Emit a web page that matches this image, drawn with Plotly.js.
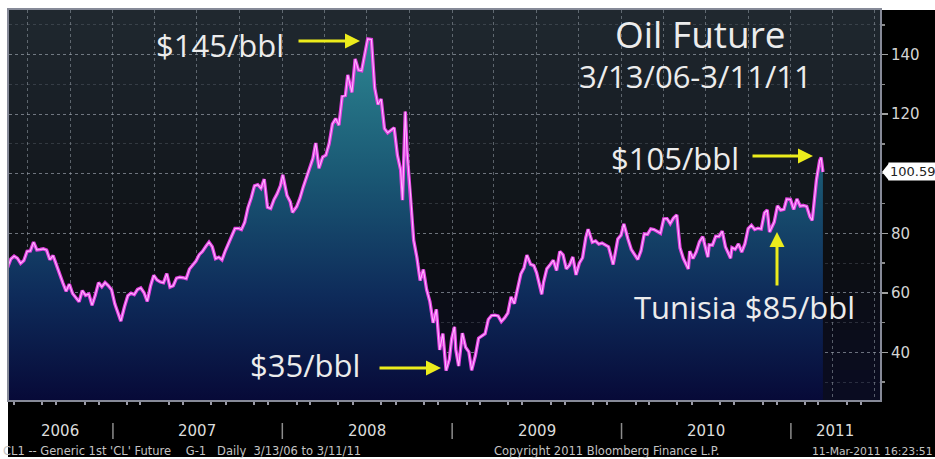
<!DOCTYPE html>
<html>
<head>
<meta charset="utf-8">
<script src="https://cdn.plot.ly/plotly-3.0.1.min.js"></script>
<style>html,body{margin:0;padding:0;background:#fff;}#chart{width:935px;height:459px;}</style>
</head>
<body>
<div id="chart"></div>
<script>
// ---- data (CL1 generic 1st crude oil future) ----
const dates = [
"2006-05-19","2006-05-26","2006-06-02","2006-06-09","2006-06-16","2006-06-23","2006-06-30","2006-07-07","2006-07-14","2006-07-21","2006-07-28","2006-08-04","2006-08-11","2006-08-18","2006-08-25","2006-09-01","2006-09-08","2006-09-15","2006-09-22","2006-09-29","2006-10-06","2006-10-13","2006-10-20","2006-10-27","2006-11-03","2006-11-10","2006-11-17","2006-11-24","2006-12-01","2006-12-08","2006-12-15","2006-12-22","2006-12-29",
"2007-01-05","2007-01-12","2007-01-18","2007-01-26","2007-02-02","2007-02-09","2007-02-16","2007-02-23","2007-03-02","2007-03-09","2007-03-16","2007-03-23","2007-03-30","2007-04-06","2007-04-13","2007-04-20","2007-04-27","2007-05-04","2007-05-11","2007-05-18","2007-05-25","2007-06-01","2007-06-08","2007-06-15","2007-06-22","2007-06-29","2007-07-06","2007-07-13","2007-07-20","2007-07-27","2007-08-03","2007-08-10","2007-08-17","2007-08-24","2007-08-31","2007-09-07","2007-09-14","2007-09-21","2007-09-28","2007-10-05","2007-10-12","2007-10-19","2007-10-26","2007-11-02","2007-11-09","2007-11-16","2007-11-23","2007-11-30","2007-12-07","2007-12-14","2007-12-21","2007-12-28",
"2008-01-02","2008-01-11","2008-01-18","2008-01-23","2008-02-01","2008-02-08","2008-02-15","2008-02-22","2008-02-29","2008-03-07","2008-03-13","2008-03-20","2008-03-28","2008-04-04","2008-04-11","2008-04-18","2008-04-25","2008-05-02","2008-05-09","2008-05-16","2008-05-21","2008-05-30","2008-06-06","2008-06-13","2008-06-20","2008-06-27","2008-07-03","2008-07-11","2008-07-18","2008-07-25","2008-08-01","2008-08-08","2008-08-15","2008-08-22","2008-08-29","2008-09-05","2008-09-12","2008-09-16","2008-09-22","2008-09-26","2008-10-03","2008-10-10","2008-10-17","2008-10-24","2008-10-31","2008-11-07","2008-11-14","2008-11-21","2008-11-28","2008-12-05","2008-12-12","2008-12-19","2008-12-26","2008-12-31",
"2009-01-06","2009-01-09","2009-01-15","2009-01-23","2009-01-30","2009-02-06","2009-02-12","2009-02-20","2009-02-27","2009-03-06","2009-03-13","2009-03-20","2009-03-27","2009-04-03","2009-04-10","2009-04-17","2009-04-24","2009-05-01","2009-05-08","2009-05-15","2009-05-22","2009-05-29","2009-06-05","2009-06-11","2009-06-19","2009-06-26","2009-07-02","2009-07-13","2009-07-17","2009-07-24","2009-07-31","2009-08-07","2009-08-14","2009-08-21","2009-08-28","2009-09-04","2009-09-11","2009-09-18","2009-09-25","2009-10-02","2009-10-09","2009-10-16","2009-10-21","2009-10-30","2009-11-06","2009-11-13","2009-11-20","2009-11-27","2009-12-04","2009-12-14","2009-12-18","2009-12-24","2009-12-31",
"2010-01-06","2010-01-15","2010-01-22","2010-01-29","2010-02-05","2010-02-12","2010-02-19","2010-02-26","2010-03-05","2010-03-12","2010-03-19","2010-03-26","2010-04-02","2010-04-09","2010-04-16","2010-04-23","2010-04-30","2010-05-07","2010-05-14","2010-05-25","2010-05-28","2010-06-04","2010-06-11","2010-06-18","2010-06-25","2010-07-06","2010-07-09","2010-07-16","2010-07-23","2010-07-30","2010-08-06","2010-08-13","2010-08-24","2010-08-27","2010-09-03","2010-09-10","2010-09-17","2010-09-24","2010-10-01","2010-10-08","2010-10-15","2010-10-22","2010-10-29","2010-11-05","2010-11-11","2010-11-16","2010-11-26","2010-12-03","2010-12-10","2010-12-17","2010-12-23","2010-12-31",
"2011-01-07","2011-01-14","2011-01-21","2011-01-28","2011-02-04","2011-02-11","2011-02-16","2011-02-22","2011-02-25","2011-03-04","2011-03-07","2011-03-11"
];
const prices = [
68.53,71.37,72.33,71.63,69.89,70.87,73.93,74.09,77.03,74.43,74.54,74.76,74.35,71.14,72.51,69.20,66.25,63.33,60.55,62.91,59.76,58.57,57.02,60.75,59.14,59.58,55.81,59.24,63.43,62.03,63.43,62.41,61.05,
56.31,52.99,50.48,55.42,59.02,59.89,59.39,61.14,61.64,60.05,57.11,62.28,65.87,64.28,63.63,63.38,66.46,61.93,62.37,64.94,65.20,65.08,64.76,68.00,69.18,70.68,72.81,73.93,75.57,77.02,75.48,71.47,71.98,71.09,74.04,76.70,79.10,81.62,81.66,81.22,83.69,88.60,91.86,95.93,96.32,95.10,98.18,88.71,88.28,91.27,93.31,96.00,
99.62,92.69,90.57,86.99,88.96,91.77,95.50,98.81,101.84,105.15,110.33,101.84,105.62,106.23,110.14,116.69,118.52,116.32,125.96,126.29,133.17,127.35,138.54,134.86,134.62,140.21,145.29,145.08,128.88,123.26,125.10,115.20,113.77,114.59,115.46,106.23,101.18,91.15,120.92,106.89,93.88,77.70,71.85,64.15,67.81,61.04,57.04,49.93,54.43,40.81,46.28,33.87,37.71,44.60,
48.58,40.83,35.40,46.47,41.68,40.17,33.98,38.94,44.76,45.52,46.25,51.06,52.38,52.51,52.24,50.33,51.55,53.20,58.63,56.34,61.67,66.31,68.44,72.68,69.55,69.16,66.73,59.52,63.56,68.05,69.45,70.93,67.51,73.89,72.74,68.02,69.29,72.04,66.02,69.95,71.77,78.53,81.37,77.00,77.43,76.35,76.72,76.05,75.47,69.51,73.36,78.05,79.36,
83.18,78.00,74.54,72.89,71.19,74.13,79.81,79.66,81.50,81.24,80.68,80.00,84.87,84.92,83.24,85.12,86.15,75.11,71.61,68.01,74.00,71.51,73.78,77.18,78.86,71.98,76.09,76.01,78.98,78.95,80.70,75.39,71.63,75.17,74.60,76.45,73.66,76.49,81.58,82.66,81.25,81.69,81.43,86.85,87.81,80.44,83.76,89.19,87.79,88.02,91.51,91.38,
88.03,91.54,89.11,89.34,89.03,85.58,84.32,93.57,97.88,104.42,105.44,100.59
];
const yearLabels = ["2006","2007","2008","2009","2010","2011"];
const yearLabelDates = ["2006-09-09","2007-07-02","2008-07-02","2009-07-02","2010-07-02","2011-04-06"];
const yearBoundaries = ["2007-01-01","2008-01-01","2009-01-01","2010-01-01","2011-01-01"];
const yTickVals = [40,60,80,100,120,140];
const yTickText = ["40","60","80","","120","140"];   // 100 is hidden under the last-price tag
const titleText = "Oil Future";
const subtitleText = "3/13/06-3/11/11";
const callouts = ["$145/bbl","$35/bbl","$105/bbl","Tunisia $85/bbl"];
const footerLeft = "CL1 -- Generic 1st 'CL' Future\u00a0\u00a0\u00a0\u00a0G-1\u00a0\u00a0\u00a0Daily\u00a0\u00a03/13/06 to 3/11/11";
const footerMid = "Copyright 2011 Bloomberg Finance L.P.";
const footerRight = "11-Mar-2011 16:23:51";

// ---- geometry helpers (plot area: x 9..880, y 10..400) ----
const W = 935, H = 459, L = 9, R = 55, T = 10, B = 59;
const PW = W - L - R, PH = H - T - B;
const px = v => (v - L) / PW;
const py = v => (T + PH - v) / PH;

const lastPrice = prices[prices.length - 1];

const traces = [
  {
    x: dates, y: prices, type: 'scatter', mode: 'lines',
    fill: 'tozeroy',
    fillgradient: {type: 'vertical', start: 24, stop: 150,
      colorscale: [[0, '#070a38'], [0.28, '#0e2b5a'], [0.6, '#1a5874'], [1, '#2f8a94']]},
    line: {color: '#e23fe2', width: 3.4},
    hoverinfo: 'skip', showlegend: false
  },
  {
    x: dates, y: prices, type: 'scatter', mode: 'lines',
    line: {color: '#ffb6ff', width: 1.1},
    hoverinfo: 'skip', showlegend: false
  }
];

// background: black frame + vertical gradient behind plot area
const shapes = [];
shapes.push({type: 'rect', xref: 'paper', yref: 'paper', layer: 'below',
  x0: px(8), x1: px(945), y0: py(457), y1: py(10), line: {width: 0}, fillcolor: '#000000'});
const stops = [[10, [32, 40, 48]], [140, [22, 28, 34]], [260, [12, 14, 18]], [400, [10, 12, 34]]];
function colAt(y) {
  for (let i = 0; i < stops.length - 1; i++) {
    const [y0, c0] = stops[i], [y1, c1] = stops[i + 1];
    if (y >= y0 && y <= y1) {
      const t = (y - y0) / (y1 - y0);
      return 'rgb(' + c0.map((c, k) => Math.round(c + (c1[k] - c) * t)).join(',') + ')';
    }
  }
  return 'rgb(10,12,34)';
}
for (let y = 10; y < 400; y += 10) {
  shapes.push({type: 'rect', xref: 'paper', yref: 'paper', layer: 'below',
    x0: 0, x1: 1, y0: py(Math.min(y + 10, 400)), y1: py(y), line: {width: 0}, fillcolor: colAt(y + 5)});
}
// year separators below the axis
yearBoundaries.forEach(d => shapes.push({type: 'line', xref: 'x', yref: 'paper',
  x0: d, x1: d, y0: py(439), y1: py(423), line: {color: '#8c8c8c', width: 1.5}}));
// last-price tag pointer
shapes.push({type: 'path', xref: 'paper', yref: 'y',
  path: `M ${px(882)},${lastPrice} L ${px(889)},${lastPrice + 2.9} L ${px(889)},${lastPrice - 2.9} Z`,
  fillcolor: '#ffffff', line: {width: 0}});

const txt = '#ececec', yellow = '#ecec1c', callFont = 'Open Sans, Noto Sans, sans-serif';
const arrow = (hx, hy, ax, ay) => ({xref: 'paper', yref: 'paper', x: px(hx), y: py(hy), text: '',
  showarrow: true, ax: ax, ay: ay, arrowhead: 2, arrowsize: 1, arrowwidth: 3, arrowcolor: yellow, standoff: 0, startstandoff: 0});

const annotations = [
  {xref: 'paper', yref: 'paper', x: px(700), y: py(33), text: titleText, showarrow: false,
    font: {family: callFont, size: 37, color: txt}, xanchor: 'center', yanchor: 'middle'},
  {xref: 'paper', yref: 'paper', x: px(695), y: py(76), text: subtitleText, showarrow: false,
    font: {family: callFont, size: 31, color: txt}, xanchor: 'center', yanchor: 'middle'},
  {xref: 'paper', yref: 'paper', x: px(220), y: py(45), text: callouts[0], showarrow: false,
    font: {family: callFont, size: 31, color: txt}, xanchor: 'center', yanchor: 'middle'},
  arrow(360, 41, -63, 0),
  {xref: 'paper', yref: 'paper', x: px(305), y: py(365), text: callouts[1], showarrow: false,
    font: {family: callFont, size: 31, color: txt}, xanchor: 'center', yanchor: 'middle'},
  arrow(441, 368, -63, 0),
  {xref: 'paper', yref: 'paper', x: px(675), y: py(158), text: callouts[2], showarrow: false,
    font: {family: callFont, size: 31, color: txt}, xanchor: 'center', yanchor: 'middle'},
  arrow(813, 156, -62, 0),
  {xref: 'paper', yref: 'paper', x: px(744), y: py(307), text: callouts[3], showarrow: false,
    font: {family: callFont, size: 31, color: txt}, xanchor: 'center', yanchor: 'middle'},
  arrow(777, 232, 0, 55),
  // last price tag
  {xref: 'paper', yref: 'y', x: px(888), y: lastPrice, text: lastPrice.toFixed(2), showarrow: false,
    xanchor: 'left', yanchor: 'middle', bgcolor: '#ffffff', borderpad: 1,
    font: {family: 'DejaVu Sans, sans-serif', size: 13, color: '#222222'}},
  // footer
  {xref: 'paper', yref: 'paper', x: px(1), y: py(451), text: footerLeft, showarrow: false,
    xanchor: 'left', yanchor: 'middle', font: {family: 'DejaVu Sans, sans-serif', size: 11.5, color: '#c4c4c4'}},
  {xref: 'paper', yref: 'paper', x: px(607), y: py(451), text: footerMid, showarrow: false,
    xanchor: 'center', yanchor: 'middle', font: {family: 'DejaVu Sans, sans-serif', size: 11.5, color: '#c4c4c4'}},
  {xref: 'paper', yref: 'paper', x: px(810), y: py(451), text: footerRight, showarrow: false,
    xanchor: 'left', yanchor: 'middle', font: {family: 'DejaVu Sans, sans-serif', size: 10.8, color: '#c4c4c4'}}
];
yearLabels.forEach((lab, i) => annotations.push({xref: 'x', yref: 'paper', x: yearLabelDates[i], y: py(431),
  text: lab, showarrow: false, xanchor: 'center', yanchor: 'middle',
  font: {family: 'DejaVu Sans, sans-serif', size: 15, color: '#dcdcdc'}}));

const layout = {
  width: W, height: H,
  margin: {l: L, r: R, t: T, b: B, pad: 0},
  paper_bgcolor: '#ffffff',
  plot_bgcolor: 'rgba(0,0,0,0)',
  showlegend: false,
  xaxis: {
    type: 'date', range: ['2006-05-22', '2011-07-12'],
    tickmode: 'linear', tick0: '2006-01-01', dtick: 'M3',
    showgrid: true, gridcolor: 'rgba(150,158,168,0.55)', griddash: 'dot', gridwidth: 1,
    showticklabels: false, ticks: '',
    minor: {tickmode: 'linear', tick0: '2006-01-01', dtick: 'M1', ticks: 'outside', ticklen: 3,
      tickwidth: 2, tickcolor: '#9a9aa6', showgrid: false},
    showline: true, mirror: true, linecolor: '#868a98', linewidth: 2,
    zeroline: false, fixedrange: true
  },
  yaxis: {
    side: 'right', range: [24, 155],
    tickmode: 'array', tickvals: yTickVals, ticktext: yTickText,
    ticks: 'outside', ticklen: 6, tickwidth: 1.5, tickcolor: '#a0a0a0',
    tickfont: {family: 'DejaVu Sans, sans-serif', size: 15, color: '#d4d4d4'},
    showgrid: true, gridcolor: 'rgba(160,168,178,0.55)', griddash: 'dot', gridwidth: 1,
    minor: {tickmode: 'linear', tick0: 0, dtick: 10, ticks: 'outside', ticklen: 3, tickcolor: '#8a8a8a',
      showgrid: true, gridcolor: 'rgba(140,148,158,0.25)', griddash: 'dot'},
    showline: true, mirror: true, linecolor: '#868a98', linewidth: 2,
    zeroline: false, fixedrange: true
  },
  shapes: shapes,
  annotations: annotations
};

Plotly.newPlot('chart', traces, layout, {displayModeBar: false, staticPlot: true});
</script>
</body>
</html>
